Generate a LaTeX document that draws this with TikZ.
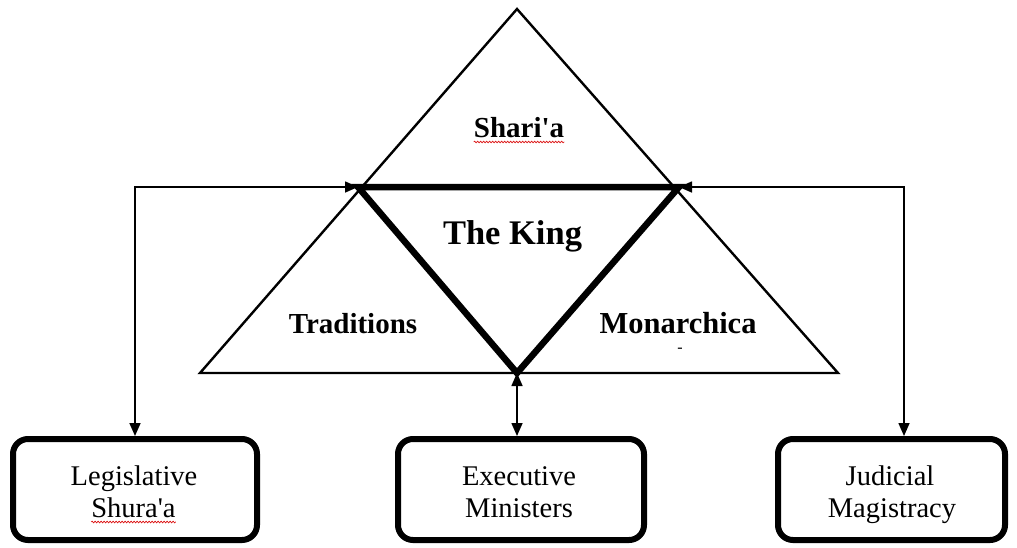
\documentclass[tikz,border=0pt]{standalone}
\usepackage{fontspec}
\setmainfont{Liberation Serif}
\usetikzlibrary{arrows.meta,decorations.pathmorphing}

\begin{document}
\begin{tikzpicture}[x=1pt,y=-1pt,
  thinedge/.style={line width=2.4pt,line join=miter},
  kingedge/.style={line width=6.5pt,line join=miter},
  link/.style={line width=1.6pt,{Triangle[length=13pt,width=11pt]}-{Triangle[length=13pt,width=11pt]}},
  branch/.style={draw,line width=6pt,rounded corners=15pt,minimum height=101pt,inner sep=0pt},
  branchtext/.style={anchor=base,inner sep=0pt,font=\fontsize{28.5}{32}\selectfont},
  pillar/.style={anchor=base,inner sep=0pt,font=\bfseries\fontsize{29}{34}\selectfont},
  spell/.style={draw=red!85!black,line width=0.6pt,decorate,decoration={snake,amplitude=0.9pt,segment length=3pt}}]

\useasboundingbox (0,0) rectangle (1017,547);

% corner points of the triangles
\coordinate (A) at (517,9);
\coordinate (L) at (200,373);
\coordinate (R) at (838,373);
\coordinate (P) at (358,187);
\coordinate (Q) at (679,187);
\coordinate (B) at (517,373);

% outer triangle and the inverted king triangle
\draw[thinedge] (A) -- (L) -- (R) -- cycle;
\draw[kingedge] (P) -- (Q) -- (B) -- cycle;

% labels inside the triangles
\node[pillar] (sharia) at (519,137) {Shari\textquotesingle a};
\node[pillar,font=\bfseries\fontsize{34.5}{40}\selectfont] (king) at (512.5,244) {The King};
\node[pillar] (trad) at (353,333) {Traditions};
\node[pillar,font=\bfseries\fontsize{30.5}{36}\selectfont] (mon) at (678,333) {Monarchica};
\node[anchor=base,inner sep=0pt,font=\fontsize{16}{16}\selectfont] (mark) at (680,352) {-};

% the three branches
\node[branch,minimum width=244pt] (leg) at (135,489.5) {};
\node[branch,minimum width=246pt] (exe) at (521,489.5) {};
\node[branch,minimum width=227pt] (jud) at (891.5,489.5) {};

\node[branchtext] (legA) at (134,485) {Legislative};
\node[branchtext] (legB) at (133.5,517) {Shura\textquotesingle a};
\node[branchtext] (exeA) at (519,485) {Executive};
\node[branchtext] (exeB) at (519,517) {Ministers};
\node[branchtext] (judA) at (890,485) {Judicial};
\node[branchtext] (judB) at (892,517) {Magistracy};

% spelling marks under the transliterated words
\draw[spell] ([yshift=-5pt]sharia.base west) -- ([yshift=-5pt]sharia.base east);
\draw[spell] ([yshift=-5pt]legB.base west) -- ([yshift=-5pt]legB.base east);

% connectors between the king and the branches
\draw[link] (leg.north) |- (P);
\draw[link] ([xshift=12.5pt]jud.north) |- (Q);
\draw[link] (B) -- (B |- exe.north);

\end{tikzpicture}
\end{document}
